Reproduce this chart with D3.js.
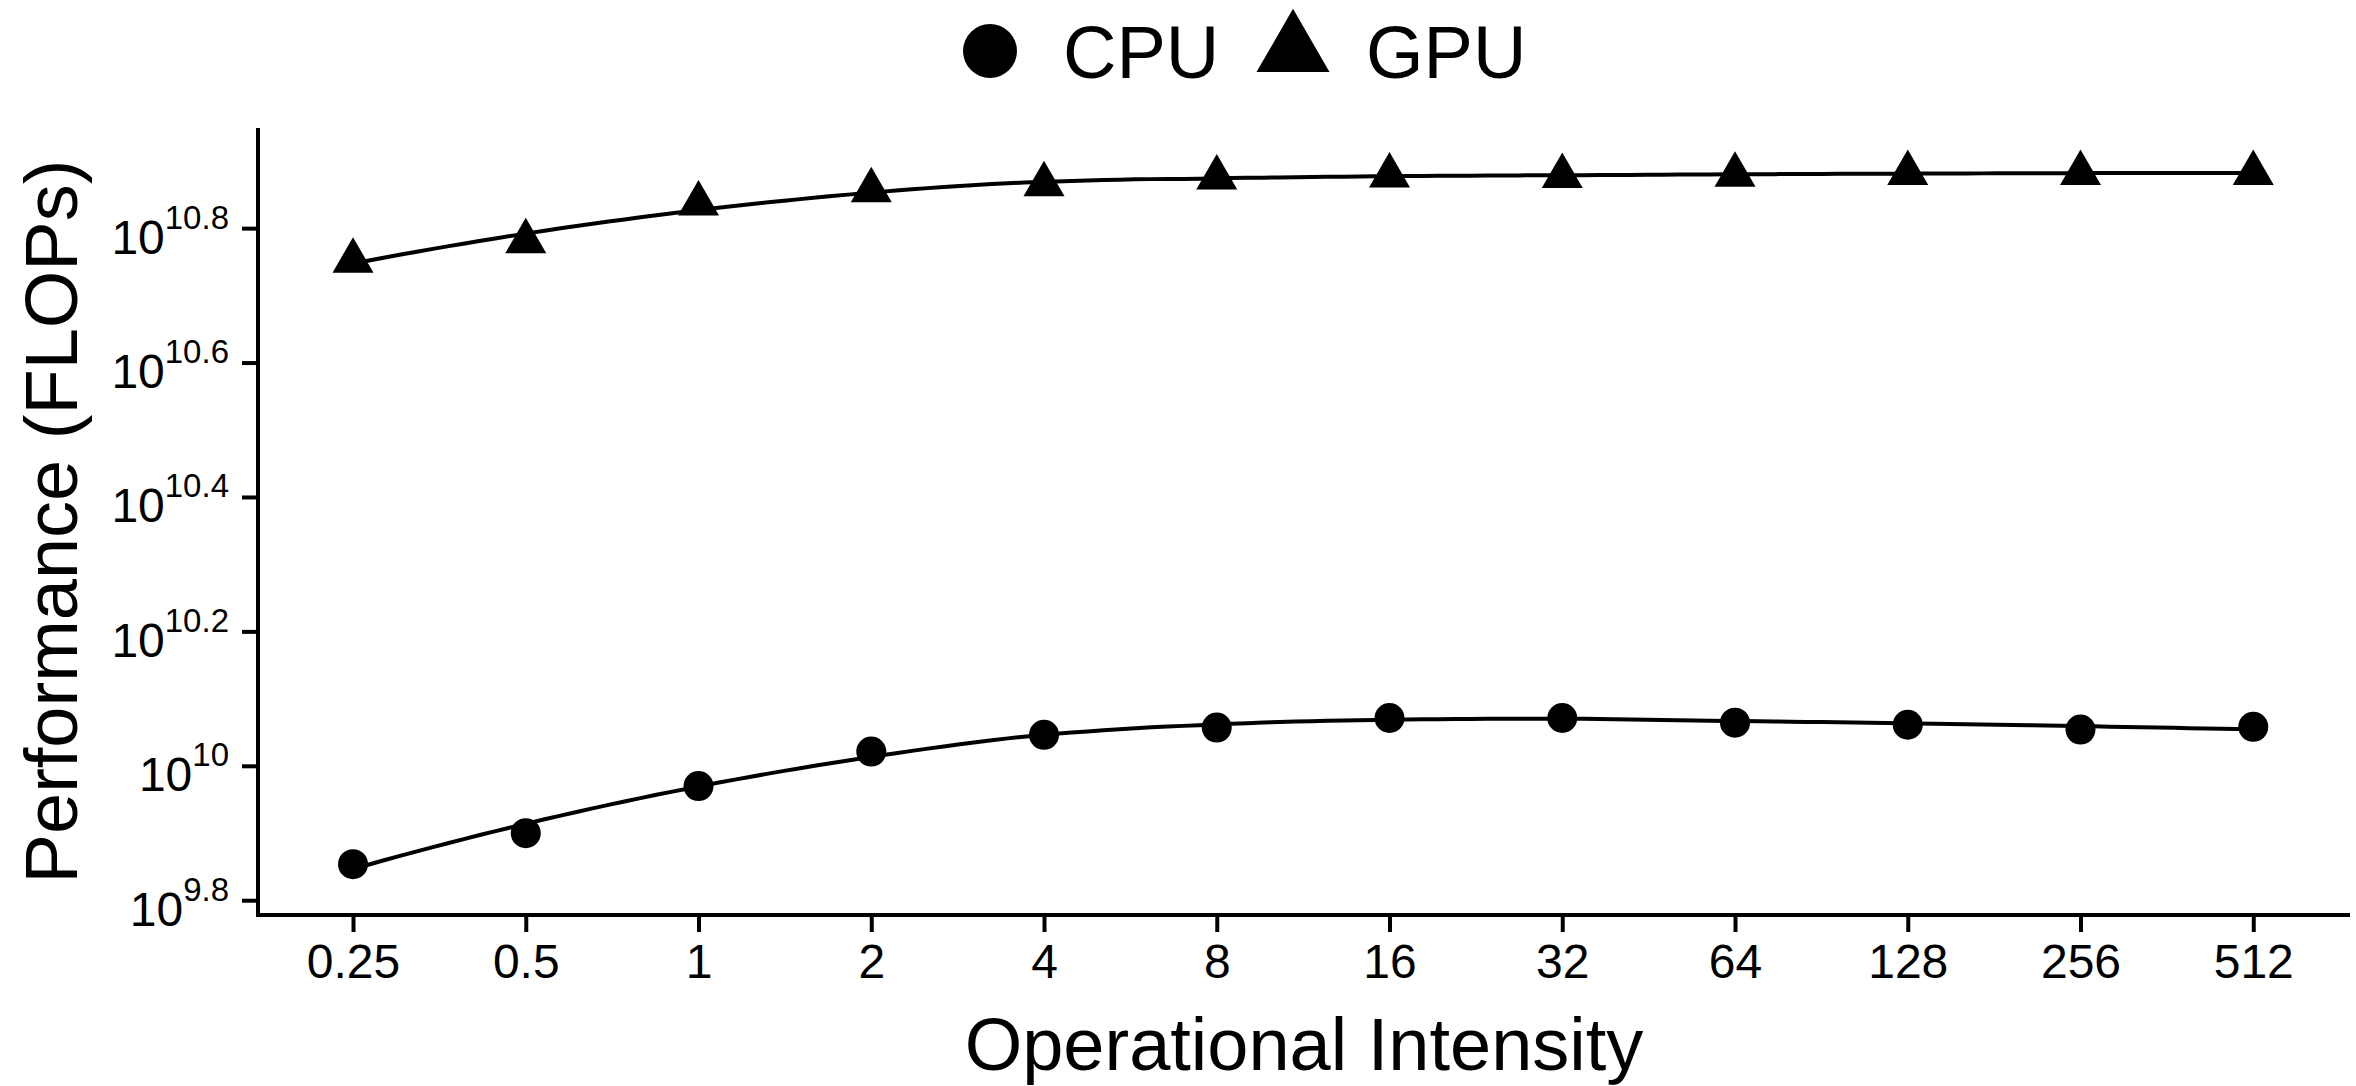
<!DOCTYPE html>
<html>
<head>
<meta charset="utf-8">
<script src="https://cdn.jsdelivr.net/npm/d3@7"></script>
<style>
  html, body { margin: 0; padding: 0; background: #fff; }
  svg { display: block; }
  text { font-family: "Liberation Sans", Arial, Helvetica, sans-serif; fill: #000; }
</style>
</head>
<body>
<svg id="chart" width="2356" height="1086"></svg>
<script>
// ---- data ----
const intensity = [0.25, 0.5, 1, 2, 4, 8, 16, 32, 64, 128, 256, 512];
const intensityLabels = ["0.25", "0.5", "1", "2", "4", "8", "16", "32", "64", "128", "256", "512"];
const cpuFlops = [7.14e9, 7.94e9, 9.33e9, 1.050e10, 1.112e10, 1.140e10, 1.178e10, 1.178e10, 1.159e10, 1.151e10, 1.132e10, 1.143e10];
const gpuFlops = [5.64e10, 6.03e10, 6.86e10, 7.18e10, 7.33e10, 7.50e10, 7.55e10, 7.54e10, 7.57e10, 7.62e10, 7.62e10, 7.62e10];
const yTickExponents = ["9.8", "10", "10.2", "10.4", "10.6", "10.8"];
const seriesNames = ["CPU", "GPU"];

// ---- layout ----
const svg = d3.select("#chart");
const padL = 258, padR = 2350, padT = 128, padB = 915;

const x = d3.scaleLog().base(2)
  .domain([Math.pow(2, -2.55), Math.pow(2, 9.56)])
  .range([padL, padR]);
const y = d3.scaleLog()
  .domain([Math.pow(10, 9.778), Math.pow(10, 10.949)])
  .range([padB, padT]);

// ---- axes ----
const xAxis = d3.axisBottom(x)
  .tickValues(intensity)
  .tickFormat((d, i) => intensityLabels[i])
  .tickSize(17).tickSizeOuter(0).tickPadding(12);
const gx = svg.append("g").attr("transform", `translate(0,${padB})`).call(xAxis);
gx.select(".domain").attr("stroke", "#000").attr("stroke-width", 4).attr("d", `M${padL - 2},0H${padR}`);
gx.selectAll(".tick line").attr("stroke", "#000").attr("stroke-width", 4);
gx.selectAll(".tick text")
  .attr("font-size", 48)
  .attr("font-family", "Liberation Sans, Arial, sans-serif")
  .attr("fill", "#000")
  .attr("dy", "0.71em");

const yTickValues = yTickExponents.map(e => Math.pow(10, +e));
const yAxis = d3.axisLeft(y)
  .tickValues(yTickValues)
  .tickFormat("")
  .tickSize(16).tickSizeOuter(0);
const gy = svg.append("g").attr("transform", `translate(${padL},0)`).call(yAxis);
gy.select(".domain").attr("stroke", "#000").attr("stroke-width", 4).attr("d", `M0,${padT}V${padB + 2}`);
gy.selectAll(".tick line").attr("stroke", "#000").attr("stroke-width", 4);
gy.selectAll(".tick text").remove();
gy.selectAll(".tick").each(function(d, i) {
  const t = d3.select(this).append("text")
    .attr("x", -29)
    .attr("y", 25)
    .attr("text-anchor", "end");
  t.append("tspan").attr("font-size", 48).text("10");
  t.append("tspan").attr("font-size", 33).attr("dy", -25).text(yTickExponents[i]);
});

// ---- axis titles ----
svg.append("text")
  .attr("x", (padL + padR) / 2)
  .attr("y", 1070)
  .attr("text-anchor", "middle")
  .attr("font-size", 74)
  .text("Operational Intensity");
svg.append("text")
  .attr("transform", `translate(77,${(padT + padB) / 2}) rotate(-90)`)
  .attr("text-anchor", "middle")
  .attr("font-size", 74)
  .text("Performance (FLOPs)");

// ---- loess smoother (local quadratic, tricube weights, span 0.75) on log scales ----
function loess(xs, ys, span, evalXs) {
  const n = xs.length;
  const q = Math.max(3, Math.floor(span * n));
  return evalXs.map(x0 => {
    const dists = xs.map(xi => Math.abs(xi - x0));
    const sorted = dists.slice().sort((a, b) => a - b);
    const h = sorted[q - 1] * (span > 1 ? span : 1) || 1e-9;
    let S = [[0,0,0],[0,0,0],[0,0,0]], B = [0,0,0];
    for (let i = 0; i < n; i++) {
      const u = dists[i] / h;
      if (u >= 1) continue;
      const w = Math.pow(1 - u * u * u, 3);
      const dx = xs[i] - x0;
      const v = [1, dx, dx * dx];
      for (let a = 0; a < 3; a++) {
        B[a] += w * v[a] * ys[i];
        for (let b = 0; b < 3; b++) S[a][b] += w * v[a] * v[b];
      }
    }
    // solve 3x3 by Gaussian elimination
    const M = S.map((r, i) => r.concat([B[i]]));
    for (let c = 0; c < 3; c++) {
      let p = c;
      for (let r = c + 1; r < 3; r++) if (Math.abs(M[r][c]) > Math.abs(M[p][c])) p = r;
      [M[c], M[p]] = [M[p], M[c]];
      for (let r = c + 1; r < 3; r++) {
        const f = M[r][c] / M[c][c];
        for (let k = c; k < 4; k++) M[r][k] -= f * M[c][k];
      }
    }
    const sol = [0,0,0];
    for (let r = 2; r >= 0; r--) {
      let s = M[r][3];
      for (let k = r + 1; k < 3; k++) s -= M[r][k] * sol[k];
      sol[r] = s / M[r][r];
    }
    return sol[0];
  });
}

const logX = intensity.map(v => Math.log2(v));
const nEval = 120;
const evalX = d3.range(nEval).map(i => logX[0] + (logX[logX.length - 1] - logX[0]) * i / (nEval - 1));

const line = d3.line()
  .x(d => x(Math.pow(2, d[0])))
  .y(d => y(Math.pow(10, d[1])));

[cpuFlops, gpuFlops].forEach(s => {
  const fit = loess(logX, s.map(v => Math.log10(v)), 0.75, evalX);
  svg.append("path")
    .attr("d", line(evalX.map((ex, i) => [ex, fit[i]])))
    .attr("fill", "none")
    .attr("stroke", "#000")
    .attr("stroke-width", 4);
});

// ---- markers ----
const circleSym = d3.symbol().type(d3.symbolCircle).size(Math.PI * 15 * 15);
const triSym = d3.symbol().type(d3.symbolTriangle).size(Math.sqrt(3) / 4 * 41 * 41);

svg.append("g").selectAll("path")
  .data(cpuFlops)
  .join("path")
  .attr("transform", (d, i) => `translate(${x(intensity[i])},${y(d)})`)
  .attr("d", circleSym)
  .attr("fill", "#000");

svg.append("g").selectAll("path")
  .data(gpuFlops)
  .join("path")
  .attr("transform", (d, i) => `translate(${x(intensity[i])},${y(d)})`)
  .attr("d", triSym)
  .attr("fill", "#000");

// ---- legend ----
const lg = svg.append("g");
lg.append("path")
  .attr("transform", "translate(990,51)")
  .attr("d", d3.symbol().type(d3.symbolCircle).size(Math.PI * 27 * 27)())
  .attr("fill", "#000");
lg.append("text").attr("x", 1063).attr("y", 78).attr("font-size", 74).text(seriesNames[0]);
lg.append("path")
  .attr("transform", "translate(1293,51)")
  .attr("d", d3.symbol().type(d3.symbolTriangle).size(Math.sqrt(3) / 4 * 73 * 73)())
  .attr("fill", "#000");
lg.append("text").attr("x", 1366).attr("y", 78).attr("font-size", 74).text(seriesNames[1]);
</script>
</body>
</html>
